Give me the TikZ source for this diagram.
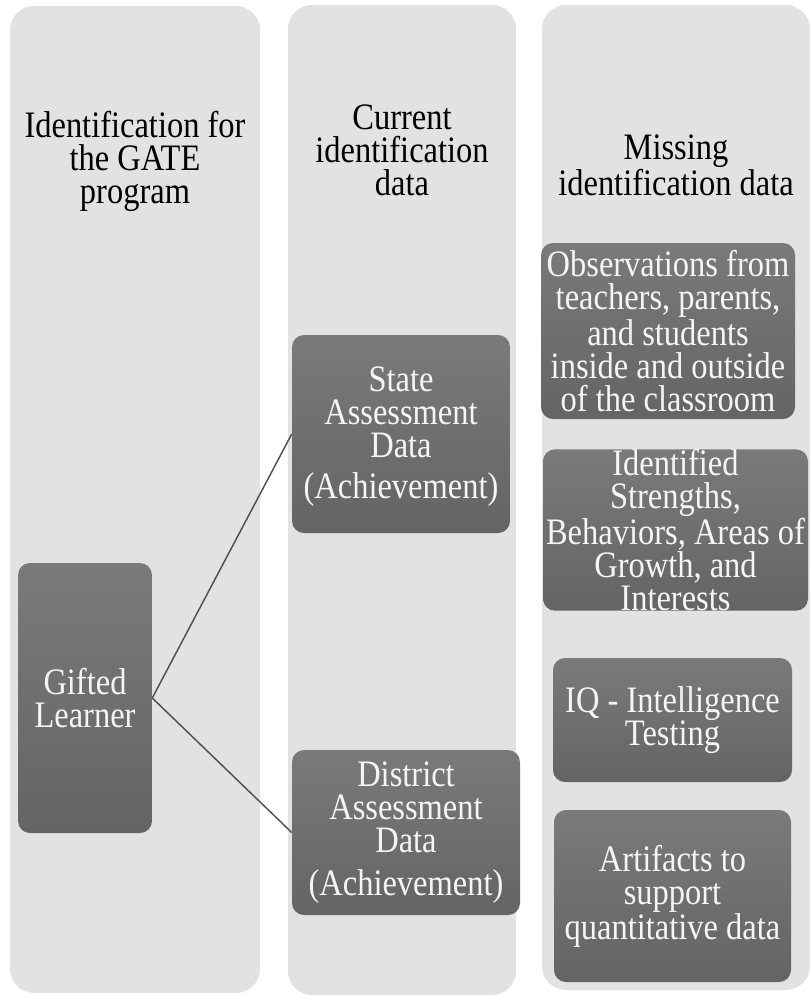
\documentclass[tikz,border=0pt]{standalone}
\usepackage{fontspec}
\setmainfont{Liberation Serif}[FakeStretch=0.87]
\newcommand{\dfont}{\fontsize{28pt}{24.75pt}\selectfont}
\definecolor{colgray}{RGB}{226,226,226}
\definecolor{boxtop}{RGB}{122,122,122}
\definecolor{boxbot}{RGB}{100,100,100}
\definecolor{linegray}{RGB}{80,80,80}
\definecolor{boxtext}{RGB}{245,245,245}
\begin{document}
\begin{tikzpicture}[x=0.75pt,y=-0.75pt,
  colbg/.style={fill=colgray, rounded corners=18pt, draw=none, inner sep=0pt},
  gbox/.style={rounded corners=9pt, top color=boxtop, bottom color=boxbot, draw=none,
    text=boxtext, align=center, inner sep=0pt, font=\dfont},
  hdr/.style={align=center, text=black, font=\dfont, inner sep=0pt},
  link/.style={draw=linegray, line width=1.1pt}]
\useasboundingbox (0,0) rectangle (810,997);
\fill[white] (0,0) rectangle (810,997);
\clip (0,0) rectangle (810,997);

% column backgrounds
\node[colbg, minimum width=187.5pt, minimum height=740.25pt] (colL) at (135,499.5) {};
\node[colbg, minimum width=171pt, minimum height=742.5pt] (colM) at (402,500) {};
\node[colbg, minimum width=201pt, minimum height=738.75pt] (colR) at (676,497.5) {};

% headers
\node[hdr] (hdrL) at (135,161) {Identification for\\the GATE\\program};
\node[hdr] (hdrM) at (402,150) {Current\\identification\\data};
\node[hdr] (hdrR) at (676,165) {Missing\\identification data};

% boxes
\node[gbox, minimum width=100.5pt, minimum height=202.5pt] (gifted) at (85,698) {Gifted\\Learner};
\node[gbox, minimum width=163.5pt, minimum height=148.5pt] (state) at (401,434) {};
\node[align=center, text=boxtext, font=\dfont, inner sep=0pt] (statetxt) at (401,437) {State\\Assessment\\Data\\[6pt](Achievement)};
\node[gbox, minimum width=171pt, minimum height=123.75pt] (district) at (406,832.5) {District\\Assessment\\Data\\[7pt](Achievement)};
\node[gbox, minimum width=190.5pt, minimum height=132pt] (obs) at (668,331) {Observations from\\teachers, parents,\\and students\\inside and outside\\of the classroom};
\node[gbox, minimum width=198.75pt, minimum height=115.5pt] (ident) at (675.5,530) {Identified\\Strengths,\\Behaviors, Areas of\\Growth, and\\Interests};
\node[gbox, minimum width=179.25pt, minimum height=93pt] (iq) at (672.5,720) {IQ - Intelligence\\Testing};
\node[gbox, minimum width=177.75pt, minimum height=129pt] (art) at (672.5,896) {Artifacts to\\support\\quantitative data};

% connectors
\draw[link] (gifted.east) -- (state.west);
\draw[link] (gifted.east) -- (district.west);
\end{tikzpicture}
\end{document}
